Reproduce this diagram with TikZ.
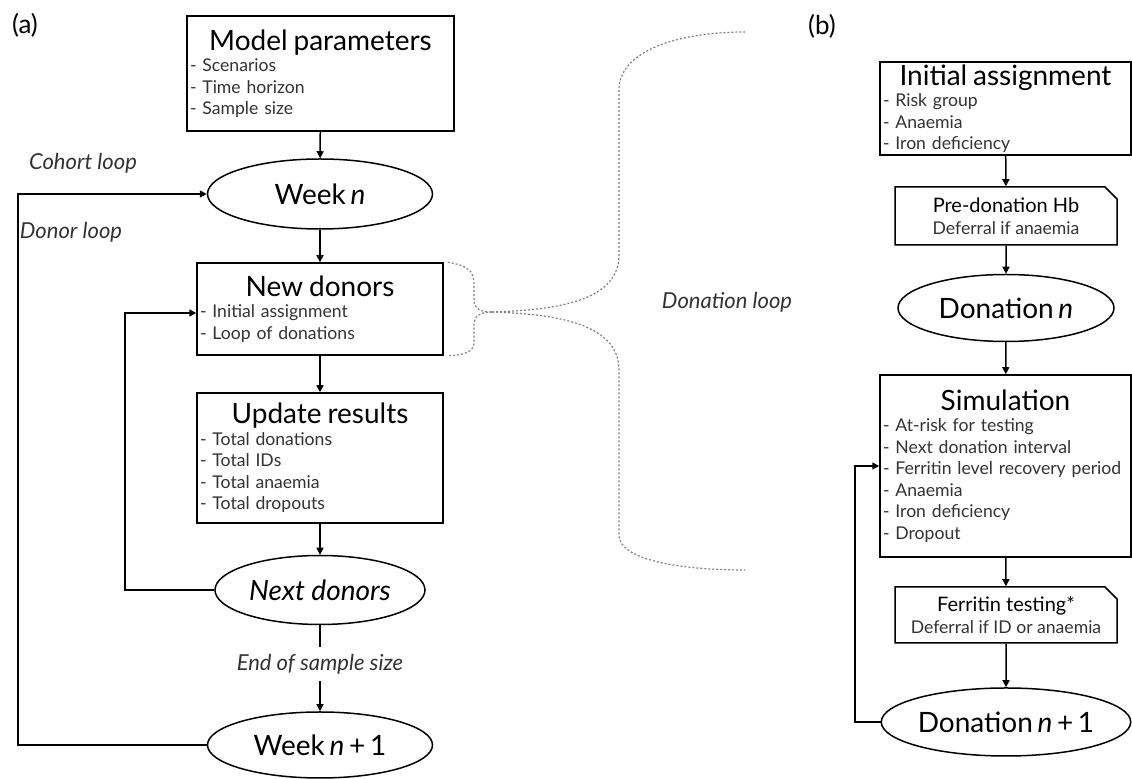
\documentclass[tikz,border=0pt]{standalone}
\usepackage{fontspec}
\setmainfont{Lato}
\usetikzlibrary{shapes.geometric,shapes.misc,arrows.meta}

\newcommand{\titlefont}{\fontsize{14}{15}\selectfont}
\newcommand{\listfont}{\fontsize{8.8}{10.75}\selectfont}
\newcommand{\looptxt}{\fontsize{11}{13}\selectfont\itshape}

\begin{document}
\begin{tikzpicture}[x=0.5pt,y=-0.5pt,
  box/.style={draw, line width=0.75pt, inner xsep=1.5pt, inner ysep=0pt, align=left, font=\listfont, text=black!80},
  oval/.style={draw, ellipse, line width=0.75pt, inner sep=0pt, font=\titlefont},
  doc/.style={draw, chamfered rectangle, chamfered rectangle corners=north east, chamfered rectangle sep=3pt, line width=0.75pt, inner sep=0pt, align=center, font=\listfont},
  arr/.style={-{Triangle[length=3.5pt,width=3.5pt]}, line width=0.75pt},
  looplabel/.style={font=\looptxt, text=black!80},
  brace/.style={gray, line width=0.6pt, dash pattern=on 1pt off 1pt}
  ]

  % white background fixes the size of the page
  \useasboundingbox [fill=white] (0,0) rectangle (1132,779);

  % panel letters
  \node [font=\fontsize{13}{15}\selectfont] (pa) at (25,25) {(a)};
  \node [font=\fontsize{13}{15}\selectfont] (pb) at (822,26) {(b)};

  % (a) cohort model
  \node [box, text width=130.5pt, minimum height=57.5pt] (mp) at (320.5,73.5)
    {\makebox[\hsize]{\color{black}\titlefont Model parameters}\\ - Scenarios\\ - Time horizon\\ - Sample size};
  \node [oval, minimum width=112.5pt, minimum height=35pt] (wkn) at (320,194) {Week\,\textit{n}};
  \node [box, text width=120pt, minimum height=46pt] (newd) at (320,309)
    {\makebox[\hsize]{\color{black}\titlefont New donors}\\ - Initial assignment\\ - Loop of donations};
  \node [box, text width=120pt, minimum height=65pt] (upd) at (320,458)
    {\makebox[\hsize]{\color{black}\titlefont Update results}\\ - Total donations\\ - Total IDs\\ - Total anaemia\\ - Total dropouts};
  \node [oval, minimum width=105pt, minimum height=34.5pt] (nextd) at (320,590) {\textit{Next donors}};
  \node [looplabel] (endss) at (320,664) {End of sample size};
  \node [oval, minimum width=112.5pt, minimum height=33pt] (wk1) at (320,745) {Week\,\textit{n}\,+\,1};

  \node [looplabel] (cohl) at (83,163) {Cohort loop};
  \node [looplabel] (donl) at (71,232) {Donor loop};

  \draw [arr] (mp) -- (wkn);
  \draw [arr] (wkn) -- (newd);
  \draw [arr] (newd) -- (upd);
  \draw [arr] (upd) -- (nextd);
  \draw [line width=0.75pt] (nextd) -- (endss);
  \draw [arr] (endss) -- (wk1);

  % loops back
  \coordinate (cl) at (18,745);
  \draw [arr] (wk1.west) -- (cl) |- (wkn.west);
  \coordinate (dl) at (125,590);
  \draw [arr] (nextd.west) -- (dl) |- ([yshift=-2pt]newd.west);

  % (b) donation model
  \node [box, text width=122.5pt, minimum height=46.5pt] (ia) at (1005.5,108.5)
    {\makebox[\hsize]{\color{black}\titlefont Initial assignment}\\ - Risk group\\ - Anaemia\\ - Iron deficiency};
  \node [doc, minimum width=111pt, minimum height=29pt] (pre) at (1006,216)
    {{\fontsize{10}{12}\selectfont Pre-donation Hb}\\ \color{black!80}Deferral if anaemia};
  \node [oval, minimum width=108pt, minimum height=33.5pt] (don) at (1006,308) {Donation\,\textit{n}};
  \node [box, text width=122.5pt, minimum height=91pt] (sim) at (1005.5,466)
    {\makebox[\hsize]{\color{black}\titlefont Simulation}\\ - At-risk for testing\\ - Next donation interval\\ - Ferritin level recovery period\\ - Anaemia\\ - Iron deficiency\\ - Dropout};
  \node [doc, minimum width=111pt, minimum height=28pt] (fer) at (1006,615)
    {{\fontsize{10}{12}\selectfont Ferritin testing*}\\ \color{black!80}Deferral if ID or anaemia};
  \node [oval, minimum width=108pt, minimum height=34pt] (don1) at (1006,722) {Donation\,\textit{n}\,+\,1};

  \node [looplabel] (dnl) at (727,302) {Donation loop};

  \draw [arr] (ia) -- (pre);
  \draw [arr] (pre) -- (don);
  \draw [arr] (don) -- (sim);
  \draw [arr] (sim) -- (fer);
  \draw [arr] (fer) -- (don1);

  \coordinate (dol) at (855,722);
  \draw [arr] (don1.west) -- (dol) |- (sim.west);

  % dotted brace from the new donors box to panel (b)
  \draw [brace] ([xshift=2pt]newd.north east) .. controls (470,266) and (474,272) .. (474,285)
    -- (474,300) .. controls (474,309) and (480,312) .. (492,312);
  \draw [brace] (492,312) .. controls (480,312) and (474,316) .. (474,325)
    -- (474,342) .. controls (474,352) and (465,355) .. ([xshift=2pt]newd.south east);
  \draw [brace] (492,312) .. controls (560,310) and (619,300) .. (619,255)
    -- (619,90) .. controls (619,50) and (680,32) .. (745,32);
  \draw [brace] (492,312) .. controls (560,314) and (619,325) .. (619,370)
    -- (619,535) .. controls (619,560) and (680,570) .. (745,570);

\end{tikzpicture}
\end{document}
